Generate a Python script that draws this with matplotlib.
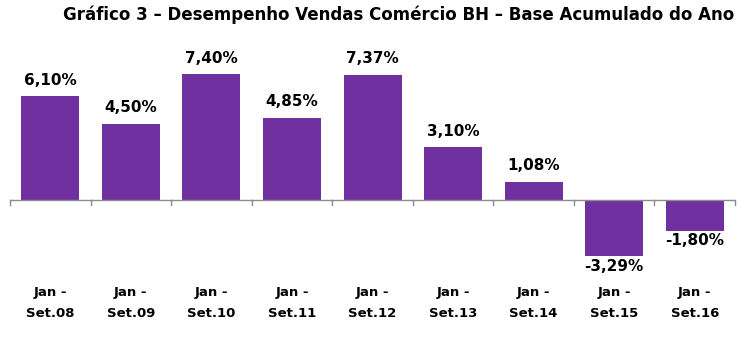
import matplotlib
matplotlib.use('Agg')
import matplotlib.pyplot as plt

# Values
periods = ['Jan -\nSet.08', 'Jan -\nSet.09', 'Jan -\nSet.10', 'Jan -\nSet.11', 'Jan -\nSet.12',
           'Jan -\nSet.13', 'Jan -\nSet.14', 'Jan -\nSet.15', 'Jan -\nSet.16']
growth = [6.10, 4.50, 7.40, 4.85, 7.37, 3.10, 1.08, -3.29, -1.80]
labels = ['6,10%', '4,50%', '7,40%', '4,85%', '7,37%', '3,10%', '1,08%', '-3,29%', '-1,80%']

W, H = 754, 337
fig = plt.figure(figsize=(W / 100, H / 100), dpi=100)
ax = fig.add_axes([10 / W, (H - 268) / H, 725 / W, 204 / H])

x = list(range(len(growth)))
ax.bar(x, growth, width=0.72, color='#7030A0', zorder=2)
ax.set_xlim(-0.5, len(growth) - 0.5)
ax.set_ylim(-4, 8)

# zero axis with ticks between categories
ax.axhline(0, color='#8c8c8c', linewidth=1, zorder=3)
for b in [i - 0.5 for i in range(len(growth) + 1)]:
    ax.plot([b, b], [0, -0.3], color='#8c8c8c', linewidth=1, zorder=3, clip_on=False)

for xi, v, t in zip(x, growth, labels):
    if v >= 0:
        ax.annotate(t, (xi, v), xytext=(0, 6), textcoords='offset points',
                    ha='center', va='bottom', fontsize=11, fontweight='bold')
    else:
        ax.annotate(t, (xi, v), xytext=(0, -2), textcoords='offset points',
                    ha='center', va='top', fontsize=11, fontweight='bold')

ax.set_xticks([])
ax.set_yticks([])
for s in ax.spines.values():
    s.set_visible(False)

for xi, p in zip(x, periods):
    ax.text(xi, -6.05, p, ha='center', va='center', fontsize=9.5, fontweight='bold',
            linespacing=1.85, clip_on=False)

fig.text(399 / W, 1 - 15 / H, 'Gráfico 3 – Desempenho Vendas Comércio BH – Base Acumulado do Ano',
         ha='center', va='center', fontsize=12, fontweight='bold')

fig.savefig('out.png', dpi=100)
